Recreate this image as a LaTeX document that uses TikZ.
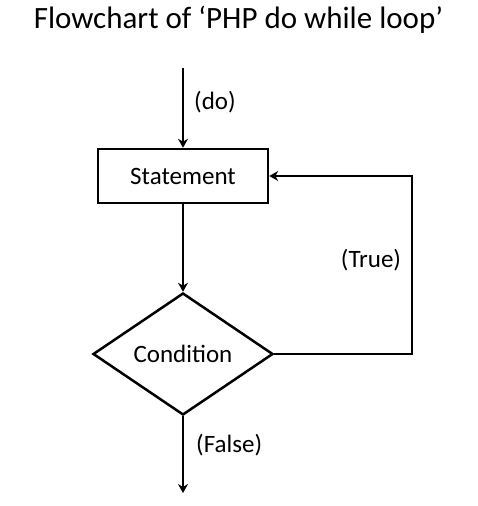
\documentclass[tikz,border=0pt]{standalone}
\usepackage{fontspec}
\setmainfont{Carlito}
\usetikzlibrary{shapes.geometric,arrows.meta,positioning}

\tikzset{
    flowline/.style={line width=2.5pt, -{Stealth[length=9pt,width=10pt,inset=3pt]}},
    stmtbox/.style={draw, line width=2.5pt, rectangle, minimum width=170pt, minimum height=54pt, inner sep=0pt},
    condbox/.style={draw, line width=2.5pt, diamond, minimum width=180pt, minimum height=122pt, inner sep=0pt},
    lbl/.style={font=\fontsize{25}{29}\selectfont}
}

\begin{document}
\begin{tikzpicture}[x=1pt, y=-1pt]
    \useasboundingbox (0,0) rectangle (478,506);

    % Title
    \node[anchor=base, font=\fontsize{31}{36}\selectfont] (title) at (238.5,28) {Flowchart of ‘PHP do while loop’};

    % Blocks
    \coordinate (start) at (183,68);
    \node[stmtbox, lbl] (stmt) at (183,176) {Statement};
    \node[condbox, lbl] (cond) at (183,354) {Condition};
    \coordinate (stop) at (183,493);
    \coordinate (loop) at (412,354);

    % Arrows
    \draw[flowline] (start) -- (stmt.north);
    \draw[flowline] (stmt.south) -- (cond.north);
    \draw[flowline] (cond.east) -- (loop) |- (stmt.east);
    \draw[flowline] (cond.south) -- (stop);

    % Labels
    \node[lbl, anchor=west, inner sep=0pt] (dolbl) at (194,102) {(do)};
    \node[lbl, inner sep=0pt] (truelbl) at (371,260) {(True)};
    \node[lbl, anchor=west, inner sep=0pt] (falselbl) at (196,445) {(False)};
\end{tikzpicture}
\end{document}
